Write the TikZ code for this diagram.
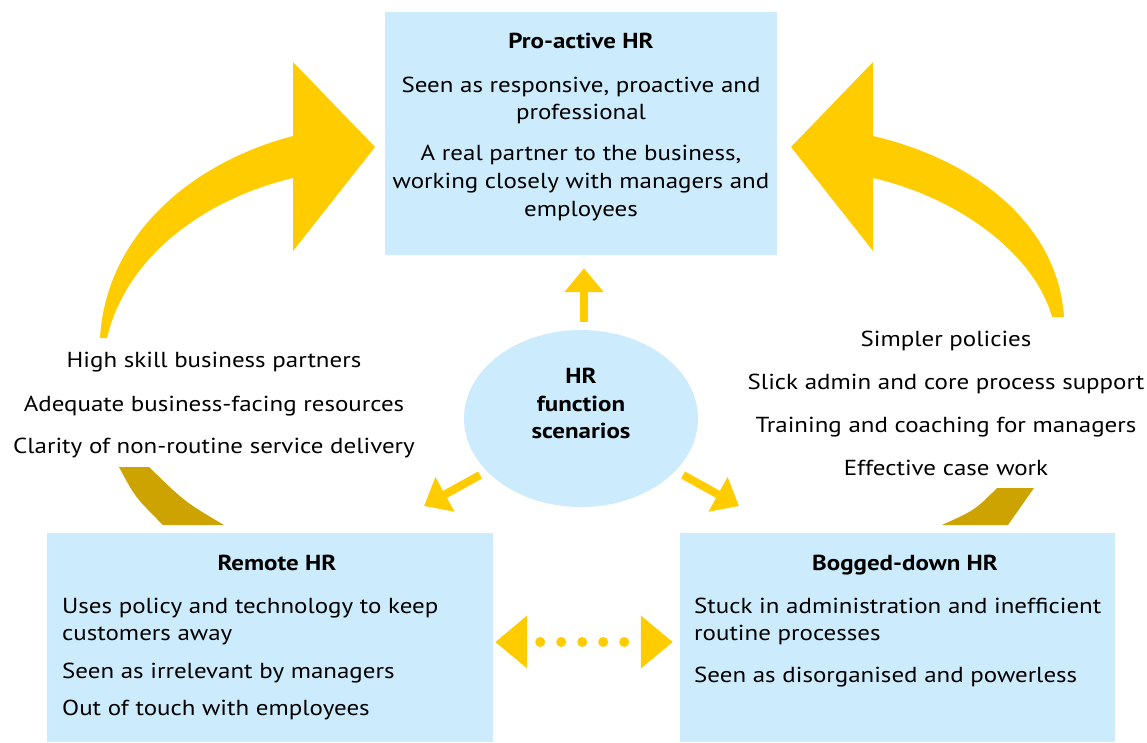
\documentclass[tikz,border=0pt]{standalone}
\usepackage{fontspec}
\setmainfont{PT Sans}[FakeStretch=1.15]
\usetikzlibrary{arrows.meta,shapes.geometric}
\definecolor{boxblue}{HTML}{CCEBFC}
\definecolor{arrowyellow}{HTML}{FFCC00}
\definecolor{darkgold}{HTML}{CCA300}
\begin{document}
\begin{tikzpicture}[x=1pt,y=-1pt,
  box/.style={fill=boxblue, draw=none, inner sep=0pt, rectangle},
  txt/.style={anchor=base, inner sep=0pt, font=\fontsize{21.7}{27}\selectfont},
  ttl/.style={anchor=base, inner sep=0pt, font=\fontsize{21.7}{27}\selectfont\bfseries},
  ltxt/.style={anchor=base west, inner sep=0pt, font=\fontsize{21.7}{27}\selectfont},
  sarrow/.style={draw=arrowyellow, line width=8pt, -{Triangle[length=24pt,width=38pt]}},
  dotline/.style={draw=arrowyellow, line width=10pt, line cap=round,
    dash pattern=on 0pt off 21pt, dash phase=6pt,
    {Triangle[length=32pt,width=51pt]}-{Triangle[length=32pt,width=51pt]},
    shorten <=2pt, shorten >=7pt}]
\useasboundingbox (0,0) rectangle (1147,742);

% boxes
\node[box, minimum width=392pt, minimum height=243pt] (top) at (581,133.5) {};
\node[box, minimum width=446pt, minimum height=209pt] (remote) at (270,637.5) {};
\node[box, minimum width=435pt, minimum height=209pt] (bogged) at (897.5,637.5) {};
\node[ellipse, fill=boxblue, draw=none, inner sep=0pt, minimum width=234pt, minimum height=177pt] (hr) at (581,418.5) {};

% big curved arrows
\fill[arrowyellow] (100,338) .. controls (106,236) and (190,163) .. (293,136) -- (293,62) -- (375,147) -- (293,251) -- (293,178) .. controls (200,200) and (125,260) .. (107,338) -- cycle;
\fill[arrowyellow] (873,136) .. controls (976,160) and (1058,225) .. (1064,317) -- (1052,317) .. controls (1035,255) and (960,198) .. (873,178) -- (873,251) -- (791,147) -- (873,62) -- cycle;

% gold pieces
\fill[darkgold] (119,467) .. controls (135,497) .. (163,525) -- (224,525) .. controls (185,502) .. (149,467) -- cycle;
\fill[darkgold] (942,525) .. controls (975,510) .. (997,488) -- (1034,488) .. controls (1022,505) .. (1008,525) -- cycle;

% small arrows
\coordinate (ulA) at (480,475);
\coordinate (ulB) at (424,506);
\coordinate (urA) at (683,475);
\coordinate (urB) at (739,506);
\draw[sarrow, shorten <=8pt, shorten >=13pt] ([xshift=3pt]hr.north) -- ([xshift=3pt]top.south);
\draw[sarrow] (ulA) -- (ulB);
\draw[sarrow] (urA) -- (urB);
\draw[dotline] ([yshift=-4.5pt]remote.east) -- ([yshift=-4.5pt]bogged.west);

% top box text
\node[ttl] (t0) at (581,48) {Pro-active HR};
\node[txt] (t1) at (581,92) {Seen as responsive, proactive and};
\node[txt] (t2) at (581,119) {professional};
\node[txt] (t3) at (581,160) {A real partner to the business,};
\node[txt] (t4) at (581,188) {working closely with managers and};
\node[txt] (t5) at (581,216) {employees};

% ellipse text
\node[ttl] (h0) at (581,383) {HR};
\node[ttl] (h1) at (581,411) {function};
\node[ttl] (h2) at (581,438) {scenarios};

% left labels
\node[txt] (l1) at (214,367) {High skill business partners};
\node[txt] (l2) at (214,411) {Adequate business-facing resources};
\node[txt] (l3) at (214,453) {Clarity of non-routine service delivery};

% right labels
\node[txt] (r1) at (946,346) {Simpler policies};
\node[txt] (r2) at (946,389) {Slick admin and core process support};
\node[txt] (r3) at (946,432) {Training and coaching for managers};
\node[txt] (r4) at (946,475) {Effective case work};

% remote text
\node[ttl] (m0) at (277,570) {Remote HR};
\node[ltxt] (m1) at (62,613) {Uses policy and technology to keep};
\node[ltxt] (m2) at (62,640) {customers away};
\node[ltxt] (m3) at (62,678) {Seen as irrelevant by managers};
\node[ltxt] (m4) at (62,715) {Out of touch with employees};

% bogged text
\node[ttl] (b0) at (905,570) {Bogged-down HR};
\node[ltxt] (b1) at (694,613) {Stuck in administration and inefficient};
\node[ltxt] (b2) at (694,640) {routine processes};
\node[ltxt] (b3) at (694,682) {Seen as disorganised and powerless};
\end{tikzpicture}
\end{document}
